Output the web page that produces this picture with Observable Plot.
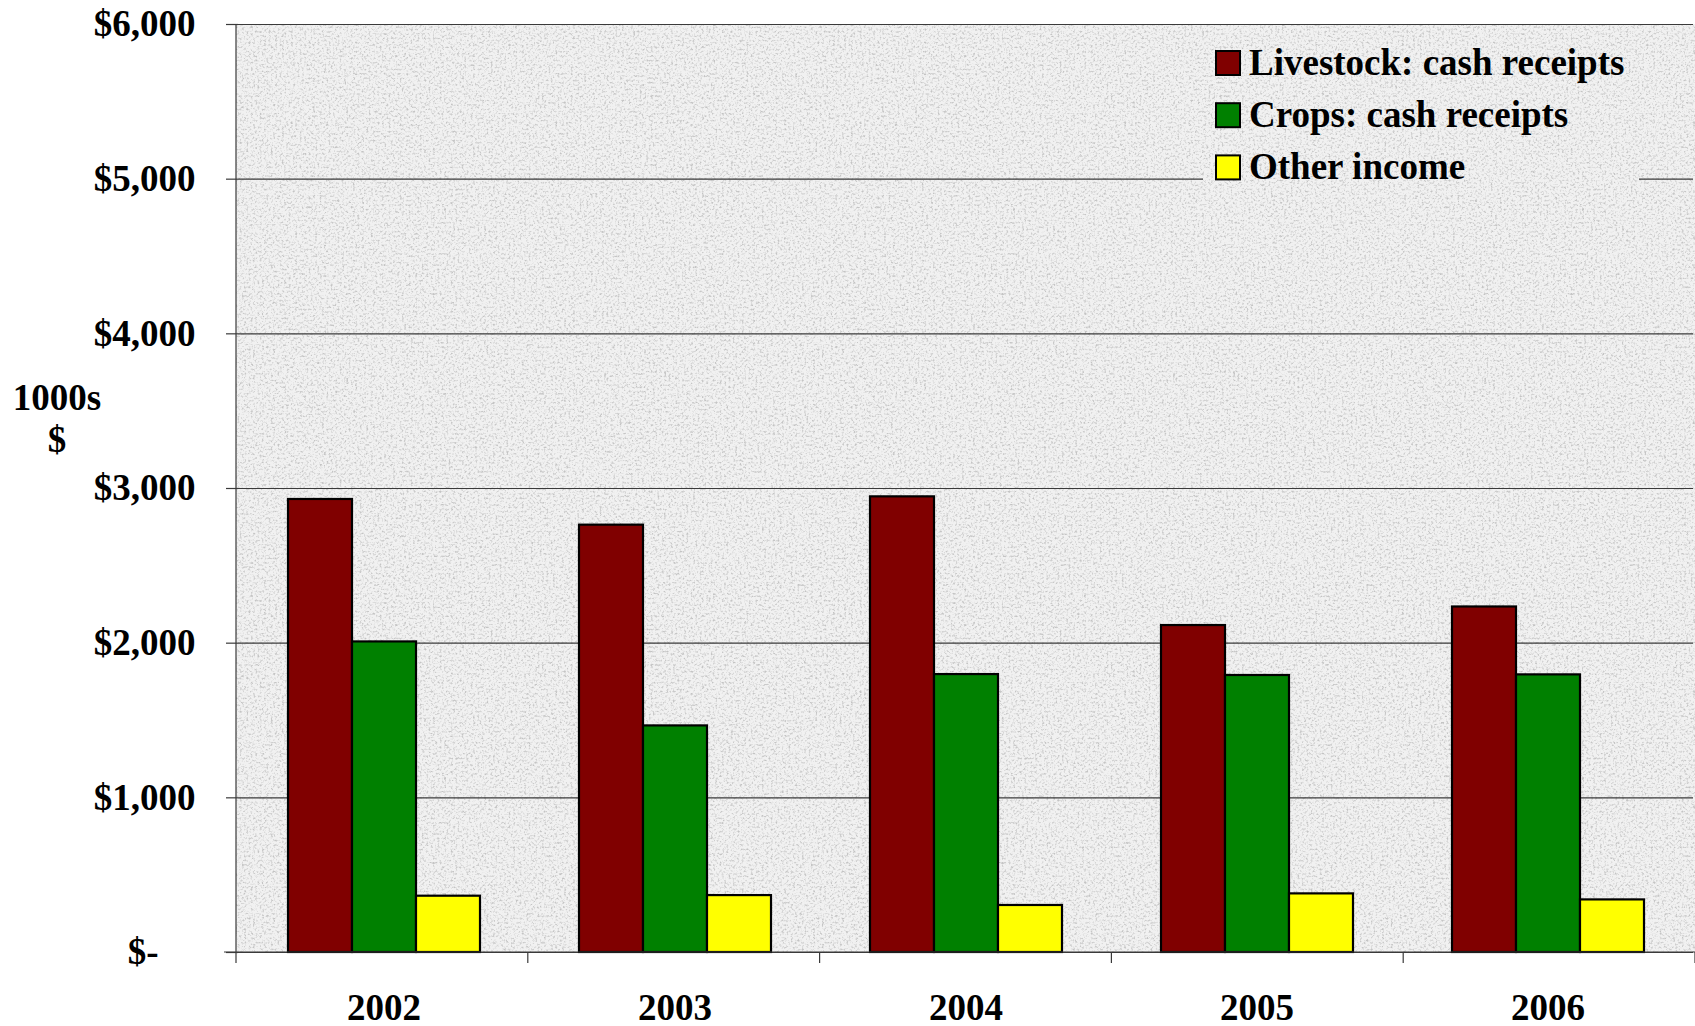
<!DOCTYPE html>
<html>
<head>
<meta charset="utf-8">
<script src="https://cdn.jsdelivr.net/npm/d3@7"></script>
<script src="https://cdn.jsdelivr.net/npm/@observablehq/plot@0.6"></script>
<style>
  html, body { margin: 0; padding: 0; background: #fff; }
  #chart { position: relative; width: 1695px; height: 1026px; }
</style>
</head>
<body>
<div id="chart"></div>
<script>
const years = ["2002", "2003", "2004", "2005", "2006"];
const series = ["Livestock: cash receipts", "Crops: cash receipts", "Other income"];
const livestock = [2929, 2763, 2946, 2114, 2234];
const crops = [2008, 1465, 1797, 1791, 1795];
const other = [364, 368, 304, 379, 340];
const seriesColors = ["#800000", "#008000", "#ffff00"];
const yTicks = [0, 1000, 2000, 3000, 4000, 5000, 6000];
const yLabelLines = ["1000s", "$"];

const valuesBySeries = [livestock, crops, other];
const data = years.flatMap((year, i) =>
  series.map((s, j) => ({year, series: s, value: valuesBySeries[j][i]}))
);

const FONT = "'Liberation Serif', 'Times New Roman', Times, serif";
const fmt = v => v === 0 ? "$-\u2007\u2007" : "$" + d3.format(",")(v);

const plot = Plot.plot({
  width: 1695,
  height: 1026,
  marginTop: 24,
  marginBottom: 74,
  marginLeft: 236,
  marginRight: 0,
  style: {fontFamily: FONT, fontWeight: "bold", fontSize: "37px", color: "#000", background: "transparent", overflow: "visible"},
  fx: {domain: years, padding: 0, label: null},
  x: {domain: series, paddingInner: 0, paddingOuter: 0.76, axis: null},
  y: {domain: [0, 6000], label: null},
  color: {domain: series, range: seriesColors},
  marks: [
    Plot.gridY(yTicks, {stroke: "#3a3a3a", strokeOpacity: 1, strokeWidth: 1.2}),
    Plot.barY(data, {fx: "year", x: "series", y: "value", fill: "series", stroke: "#000", strokeWidth: 2.2}),
    Plot.axisY(yTicks, {tickSize: 12, tickPadding: 31, tickFormat: fmt, stroke: "#3a3a3a", strokeWidth: 1.2, fontSize: 37, fontWeight: "bold", label: null}),
    Plot.axisFx({anchor: "bottom", tickSize: 0, tickPadding: 41, fontSize: 37, fontWeight: "bold", label: null})
  ]
});

document.getElementById("chart").appendChild(plot);

const svg = d3.select(plot);
const fx = plot.scale("fx");
const y = plot.scale("y");
const fxScale = d3.scaleBand().domain(fx.domain).range(fx.range).padding(0);
const x0 = fx.range[0], x1 = fx.range[1];
const yTop = y.apply(6000), yBot = y.apply(0);

// Background texture (granite-like)
const defs = svg.insert("defs", ":first-child");
const filt = defs.append("filter").attr("id", "grain").attr("x", 0).attr("y", 0).attr("width", "100%").attr("height", "100%");
filt.append("feTurbulence").attr("type", "fractalNoise").attr("baseFrequency", "0.45").attr("numOctaves", 3).attr("seed", 11).attr("result", "noise");
filt.append("feColorMatrix").attr("in", "noise").attr("type", "matrix")
  .attr("values", "0 0 0 0 0.55  0 0 0 0 0.55  0 0 0 0 0.55  3.0 0 0 0 -1.45").attr("result", "spots");
filt.append("feFlood").attr("flood-color", "#f1f1f1").attr("result", "base");
filt.append("feComposite").attr("in", "spots").attr("in2", "base").attr("operator", "over");

const bg = svg.insert("g", "defs + *");
bg.append("rect").attr("x", x0).attr("y", yTop).attr("width", x1 - x0).attr("height", yBot - yTop)
  .attr("fill", "#ececec").attr("filter", "url(#grain)");

// Axis lines and category boundary ticks
const deco = svg.append("g").attr("stroke", "#3a3a3a").attr("stroke-width", 1.2);
deco.append("line").attr("x1", x0).attr("x2", x0).attr("y1", yTop).attr("y2", yBot);
deco.append("line").attr("x1", x0 - 12).attr("x2", x1).attr("y1", yBot).attr("y2", yBot);
[...fx.domain.map(d => fxScale(d)), x1].forEach(xx => {
  deco.append("line").attr("x1", xx).attr("x2", xx).attr("y1", yBot).attr("y2", yBot + 11);
});

// Y label (two lines)
const yl = svg.append("text").attr("font-family", FONT).attr("font-weight", "bold").attr("font-size", 37)
  .attr("text-anchor", "middle").attr("fill", "#000");
yLabelLines.forEach((t, i) => yl.append("tspan").attr("x", 57).attr("y", 410 + i * 42).text(t));

// Legend
const lg = svg.append("g").attr("font-family", FONT).attr("font-weight", "bold").attr("font-size", 37)
  .attr("text-anchor", "start");
lg.append("rect").attr("x", 1203).attr("y", 30).attr("width", 436).attr("height", 162)
  .attr("fill", "#ececec").attr("filter", "url(#grain)");
series.forEach((s, i) => {
  const base = 75 + i * 52.2;
  lg.append("rect").attr("x", 1216).attr("y", base - 24).attr("width", 24).attr("height", 24)
    .attr("fill", plot.scale("color").apply(s)).attr("stroke", "#000").attr("stroke-width", 2);
  lg.append("text").attr("x", 1249).attr("y", base).attr("fill", "#000").attr("text-anchor", "start").text(s);
});
</script>
</body>
</html>
